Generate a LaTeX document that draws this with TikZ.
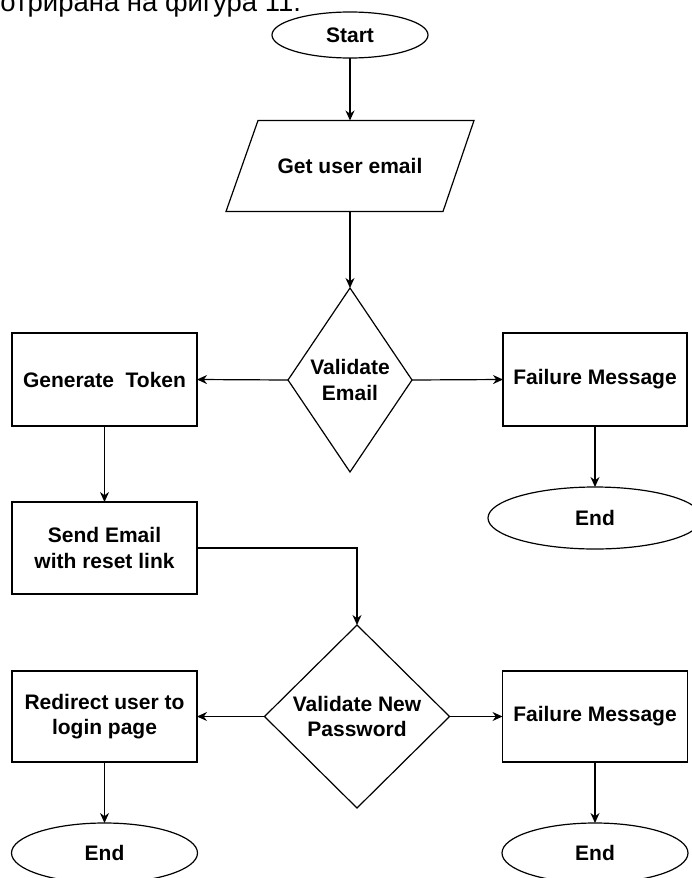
\documentclass[tikz,border=0pt]{standalone}
\usepackage{fontspec}
\setmainfont{Liberation Sans}
\usetikzlibrary{shapes.geometric,arrows.meta}
\begin{document}
\begin{tikzpicture}[x=1pt,y=-1pt,
  every node/.style={inner sep=0pt, outer sep=0pt},
  txt/.style={font=\bfseries\fontsize{21}{25.5}\selectfont, align=center, text=black},
  boxnode/.style={draw, line width=1.2pt, rectangle, txt},
  ellnode/.style={draw, line width=1.2pt, ellipse, txt},
  dianode/.style={draw, line width=1.2pt, diamond},
  conn/.style={line width=1.2pt, -{Stealth[length=10pt,width=9pt]}},
  plainconn/.style={line width=1.2pt}]
\useasboundingbox (0,0) rectangle (692,878);
% caption fragment at top
\node[anchor=base east, font=\fontsize{27.5}{30}\selectfont] (cap) at (301,11) {отрирана на фигура 11.};
% nodes
\node[ellnode, minimum width=156pt, minimum height=46pt] (start) at (350,35) {Start};
\node[minimum width=248pt, minimum height=91pt, txt] (input) at (350,166) {Get user email};
\draw[line width=1.2pt] ([xshift=32pt]input.north west) -- (input.north east)
   -- ([xshift=-31pt]input.south east) -- (input.south west) -- cycle;
\node[dianode, minimum width=124pt, minimum height=184pt,
  label={[txt]center:Validate\\Email}] (d1) at (350,380) {};
\node[boxnode, minimum width=185pt, minimum height=93pt] (gen) at (104.5,379.5) {Generate\ \ Token};
\node[boxnode, minimum width=184pt, minimum height=93pt] (fail1) at (595,379.5) {Failure Message};
\node[ellnode, minimum width=214pt, minimum height=62pt] (end1) at (595,518) {End};
\node[boxnode, minimum width=185pt, minimum height=92pt] (send) at (104.5,548) {Send Email\\with reset link};
\node[dianode, minimum width=185pt, minimum height=183pt,
  label={[txt]center:Validate New\\Password}] (d2) at (357,716.5) {};
\node[boxnode, minimum width=185pt, minimum height=91pt] (redir) at (104.5,716.5) {Redirect user to\\login page};
\node[boxnode, minimum width=185pt, minimum height=91pt] (fail2) at (595,716.5) {Failure Message};
\node[ellnode, minimum width=186pt, minimum height=60pt] (end2) at (104.5,853) {End};
\node[ellnode, minimum width=186pt, minimum height=60pt] (end3) at (595,853) {End};
% connectors
\draw[conn] (start.south) -- (input.north);
\draw[conn] (input.south) -- (d1.north);
\draw[conn] (d1.west) -- (gen.east);
\draw[conn] (d1.east) -- (fail1.west);
\draw[conn] (fail1.south) -- (end1.north);
\draw[conn] (gen.south) -- (send.north);
\draw[conn] (send.east) -| (d2.north);
\draw[conn] (d2.west) -- (redir.east);
\draw[conn] (d2.east) -- (fail2.west);
\draw[conn] (redir.south) -- (end2.north);
\draw[conn] (fail2.south) -- (end3.north);
\end{tikzpicture}
\end{document}
